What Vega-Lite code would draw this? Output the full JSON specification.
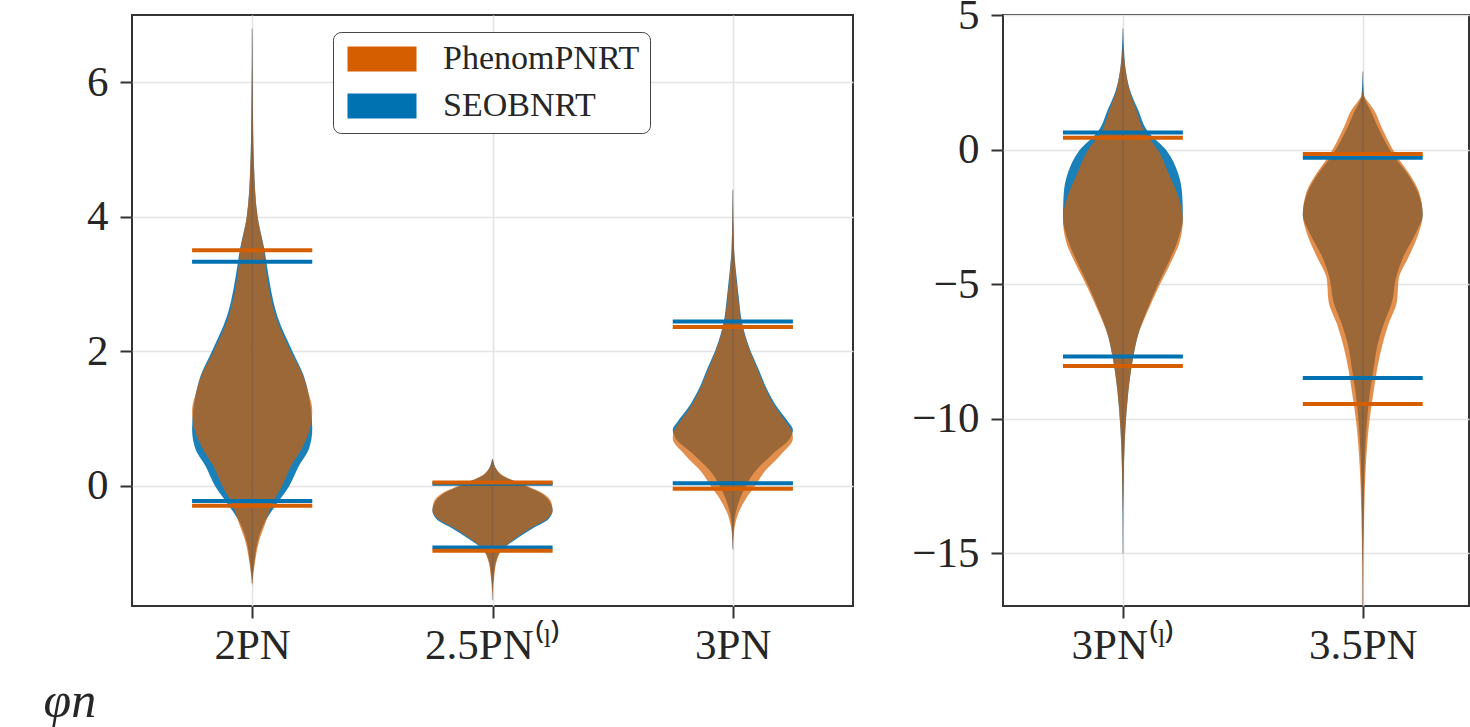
{
  "$schema": "https://vega.github.io/schema/vega-lite/v6.json",
  "background": "white",
  "padding": {"left": 42, "top": -7, "right": 0, "bottom": 0},
  "bounds": "flush",
  "spacing": 150,
  "config": {
    "view": {"stroke": "#333333", "strokeWidth": 2},
    "axis": {
      "labelFont": "Liberation Serif", "labelFontSize": 43, "labelColor": "#262626",
      "domain": false, "tickColor": "#333333", "tickWidth": 2, "tickSize": 12,
      "gridColor": "#e4e4e4", "gridWidth": 1.6, "titleFont": "Liberation Serif"
    },
    "axisY": {"labelPadding": 12},
    "axisX": {"labelPadding": 6},
    "legend": {
      "orient": "none", "legendX": 201, "legendY": 17,
      "symbolType": "M-2.76,-1H2.76V1H-2.76Z", "symbolSize": 625,
      "symbolOffset": 22, "labelOffset": 44,
      "symbolOpacity": 1, "symbolStrokeWidth": 0,
      "labelFont": "Liberation Serif", "labelFontSize": 34, "labelColor": "#262626", "labelLimit": 500,
      "rowPadding": 13, "padding": 10,
      "fillColor": "white", "strokeColor": "#444444", "cornerRadius": 8
    }
  },
  "datasets": {
    "violL": [
      {"c":0,"m":"SEOBNRT","y":6.8,"lo":0,"hi":0},
      {"c":0,"m":"SEOBNRT","y":5.7,"lo":-0.0025,"hi":0.0025},
      {"c":0,"m":"SEOBNRT","y":4.77,"lo":-0.0075,"hi":0.0075},
      {"c":0,"m":"SEOBNRT","y":4.0,"lo":-0.0225,"hi":0.0225},
      {"c":0,"m":"SEOBNRT","y":3.53,"lo":-0.05,"hi":0.05},
      {"c":0,"m":"SEOBNRT","y":3.08,"lo":-0.07,"hi":0.07},
      {"c":0,"m":"SEOBNRT","y":2.75,"lo":-0.0875,"hi":0.0875},
      {"c":0,"m":"SEOBNRT","y":2.52,"lo":-0.105,"hi":0.105},
      {"c":0,"m":"SEOBNRT","y":2.0,"lo":-0.1675,"hi":0.1675},
      {"c":0,"m":"SEOBNRT","y":1.63,"lo":-0.215,"hi":0.215},
      {"c":0,"m":"SEOBNRT","y":1.4,"lo":-0.2325,"hi":0.2325},
      {"c":0,"m":"SEOBNRT","y":1.12,"lo":-0.245,"hi":0.245},
      {"c":0,"m":"SEOBNRT","y":0.84,"lo":-0.25,"hi":0.25},
      {"c":0,"m":"SEOBNRT","y":0.56,"lo":-0.2375,"hi":0.2375},
      {"c":0,"m":"SEOBNRT","y":0.28,"lo":-0.1925,"hi":0.1925},
      {"c":0,"m":"SEOBNRT","y":0.0,"lo":-0.155,"hi":0.155},
      {"c":0,"m":"SEOBNRT","y":-0.22,"lo":-0.1125,"hi":0.1125},
      {"c":0,"m":"SEOBNRT","y":-0.56,"lo":-0.05,"hi":0.05},
      {"c":0,"m":"SEOBNRT","y":-0.84,"lo":-0.0225,"hi":0.0225},
      {"c":0,"m":"SEOBNRT","y":-1.12,"lo":-0.01,"hi":0.01},
      {"c":0,"m":"SEOBNRT","y":-1.4,"lo":0,"hi":0},

      {"c":0,"m":"PhenomPNRT","y":6.8,"lo":0,"hi":0},
      {"c":0,"m":"PhenomPNRT","y":5.7,"lo":-0.0025,"hi":0.0025},
      {"c":0,"m":"PhenomPNRT","y":4.77,"lo":-0.0075,"hi":0.0075},
      {"c":0,"m":"PhenomPNRT","y":4.0,"lo":-0.0225,"hi":0.0225},
      {"c":0,"m":"PhenomPNRT","y":3.53,"lo":-0.0475,"hi":0.0475},
      {"c":0,"m":"PhenomPNRT","y":3.08,"lo":-0.0625,"hi":0.0625},
      {"c":0,"m":"PhenomPNRT","y":2.75,"lo":-0.08,"hi":0.08},
      {"c":0,"m":"PhenomPNRT","y":2.52,"lo":-0.0975,"hi":0.0975},
      {"c":0,"m":"PhenomPNRT","y":2.0,"lo":-0.16,"hi":0.16},
      {"c":0,"m":"PhenomPNRT","y":1.63,"lo":-0.2125,"hi":0.2125},
      {"c":0,"m":"PhenomPNRT","y":1.4,"lo":-0.2325,"hi":0.2325},
      {"c":0,"m":"PhenomPNRT","y":1.12,"lo":-0.25,"hi":0.25},
      {"c":0,"m":"PhenomPNRT","y":0.84,"lo":-0.24,"hi":0.24},
      {"c":0,"m":"PhenomPNRT","y":0.56,"lo":-0.2075,"hi":0.2075},
      {"c":0,"m":"PhenomPNRT","y":0.28,"lo":-0.16,"hi":0.16},
      {"c":0,"m":"PhenomPNRT","y":0.0,"lo":-0.125,"hi":0.125},
      {"c":0,"m":"PhenomPNRT","y":-0.22,"lo":-0.09,"hi":0.09},
      {"c":0,"m":"PhenomPNRT","y":-0.56,"lo":-0.055,"hi":0.055},
      {"c":0,"m":"PhenomPNRT","y":-0.84,"lo":-0.0275,"hi":0.0275},
      {"c":0,"m":"PhenomPNRT","y":-1.12,"lo":-0.0125,"hi":0.0125},
      {"c":0,"m":"PhenomPNRT","y":-1.4,"lo":-0.0025,"hi":0.0025},
      {"c":0,"m":"PhenomPNRT","y":-1.5,"lo":0,"hi":0},

      {"c":1,"m":"SEOBNRT","y":0.4,"lo":1,"hi":1},
      {"c":1,"m":"SEOBNRT","y":0.37,"lo":0.9975,"hi":1.0025},
      {"c":1,"m":"SEOBNRT","y":0.25,"lo":0.985,"hi":1.015},
      {"c":1,"m":"SEOBNRT","y":0.15,"lo":0.96,"hi":1.04},
      {"c":1,"m":"SEOBNRT","y":0.04,"lo":0.8925,"hi":1.1075},
      {"c":1,"m":"SEOBNRT","y":-0.1,"lo":0.805,"hi":1.195},
      {"c":1,"m":"SEOBNRT","y":-0.25,"lo":0.76,"hi":1.24},
      {"c":1,"m":"SEOBNRT","y":-0.37,"lo":0.75,"hi":1.25},
      {"c":1,"m":"SEOBNRT","y":-0.5,"lo":0.7675,"hi":1.2325},
      {"c":1,"m":"SEOBNRT","y":-0.64,"lo":0.835,"hi":1.165},
      {"c":1,"m":"SEOBNRT","y":-0.79,"lo":0.9,"hi":1.1},
      {"c":1,"m":"SEOBNRT","y":-0.94,"lo":0.9575,"hi":1.0425},
      {"c":1,"m":"SEOBNRT","y":-1.09,"lo":0.9825,"hi":1.0175},
      {"c":1,"m":"SEOBNRT","y":-1.34,"lo":0.995,"hi":1.005},
      {"c":1,"m":"SEOBNRT","y":-1.6,"lo":1,"hi":1},

      {"c":1,"m":"PhenomPNRT","y":0.4,"lo":1,"hi":1},
      {"c":1,"m":"PhenomPNRT","y":0.37,"lo":0.9975,"hi":1.0025},
      {"c":1,"m":"PhenomPNRT","y":0.25,"lo":0.985,"hi":1.015},
      {"c":1,"m":"PhenomPNRT","y":0.15,"lo":0.9575,"hi":1.0425},
      {"c":1,"m":"PhenomPNRT","y":0.04,"lo":0.8875,"hi":1.1125},
      {"c":1,"m":"PhenomPNRT","y":-0.1,"lo":0.7975,"hi":1.2025},
      {"c":1,"m":"PhenomPNRT","y":-0.25,"lo":0.755,"hi":1.245},
      {"c":1,"m":"PhenomPNRT","y":-0.37,"lo":0.75,"hi":1.25},
      {"c":1,"m":"PhenomPNRT","y":-0.5,"lo":0.775,"hi":1.225},
      {"c":1,"m":"PhenomPNRT","y":-0.64,"lo":0.845,"hi":1.155},
      {"c":1,"m":"PhenomPNRT","y":-0.79,"lo":0.9075,"hi":1.0925},
      {"c":1,"m":"PhenomPNRT","y":-0.94,"lo":0.9575,"hi":1.0425},
      {"c":1,"m":"PhenomPNRT","y":-1.09,"lo":0.98,"hi":1.02},
      {"c":1,"m":"PhenomPNRT","y":-1.34,"lo":0.9925,"hi":1.0075},
      {"c":1,"m":"PhenomPNRT","y":-1.6,"lo":0.99875,"hi":1.00125},
      {"c":1,"m":"PhenomPNRT","y":-1.72,"lo":1,"hi":1},

      {"c":2,"m":"SEOBNRT","y":4.4,"lo":2,"hi":2},
      {"c":2,"m":"SEOBNRT","y":3.53,"lo":1.995,"hi":2.005},
      {"c":2,"m":"SEOBNRT","y":3.04,"lo":1.9825,"hi":2.0175},
      {"c":2,"m":"SEOBNRT","y":2.79,"lo":1.975,"hi":2.025},
      {"c":2,"m":"SEOBNRT","y":2.44,"lo":1.9625,"hi":2.0375},
      {"c":2,"m":"SEOBNRT","y":2.04,"lo":1.93,"hi":2.07},
      {"c":2,"m":"SEOBNRT","y":1.75,"lo":1.895,"hi":2.105},
      {"c":2,"m":"SEOBNRT","y":1.45,"lo":1.86,"hi":2.14},
      {"c":2,"m":"SEOBNRT","y":1.15,"lo":1.8125,"hi":2.1875},
      {"c":2,"m":"SEOBNRT","y":0.95,"lo":1.77,"hi":2.23},
      {"c":2,"m":"SEOBNRT","y":0.83,"lo":1.75,"hi":2.25},
      {"c":2,"m":"SEOBNRT","y":0.7,"lo":1.7625,"hi":2.2375},
      {"c":2,"m":"SEOBNRT","y":0.46,"lo":1.8375,"hi":2.1625},
      {"c":2,"m":"SEOBNRT","y":0.21,"lo":1.9075,"hi":2.0925},
      {"c":2,"m":"SEOBNRT","y":0.0,"lo":1.945,"hi":2.055},
      {"c":2,"m":"SEOBNRT","y":-0.19,"lo":1.97,"hi":2.03},
      {"c":2,"m":"SEOBNRT","y":-0.44,"lo":1.99,"hi":2.01},
      {"c":2,"m":"SEOBNRT","y":-0.68,"lo":1.9975,"hi":2.0025},
      {"c":2,"m":"SEOBNRT","y":-0.95,"lo":2,"hi":2},

      {"c":2,"m":"PhenomPNRT","y":4.4,"lo":2,"hi":2},
      {"c":2,"m":"PhenomPNRT","y":3.53,"lo":1.995,"hi":2.005},
      {"c":2,"m":"PhenomPNRT","y":3.04,"lo":1.985,"hi":2.015},
      {"c":2,"m":"PhenomPNRT","y":2.79,"lo":1.9775,"hi":2.0225},
      {"c":2,"m":"PhenomPNRT","y":2.44,"lo":1.965,"hi":2.035},
      {"c":2,"m":"PhenomPNRT","y":2.04,"lo":1.9325,"hi":2.0675},
      {"c":2,"m":"PhenomPNRT","y":1.75,"lo":1.9,"hi":2.1},
      {"c":2,"m":"PhenomPNRT","y":1.45,"lo":1.865,"hi":2.135},
      {"c":2,"m":"PhenomPNRT","y":1.15,"lo":1.82,"hi":2.18},
      {"c":2,"m":"PhenomPNRT","y":0.95,"lo":1.78,"hi":2.22},
      {"c":2,"m":"PhenomPNRT","y":0.83,"lo":1.7575,"hi":2.2425},
      {"c":2,"m":"PhenomPNRT","y":0.7,"lo":1.75,"hi":2.25},
      {"c":2,"m":"PhenomPNRT","y":0.46,"lo":1.8,"hi":2.2},
      {"c":2,"m":"PhenomPNRT","y":0.21,"lo":1.8675,"hi":2.1325},
      {"c":2,"m":"PhenomPNRT","y":0.0,"lo":1.9075,"hi":2.0925},
      {"c":2,"m":"PhenomPNRT","y":-0.19,"lo":1.945,"hi":2.055},
      {"c":2,"m":"PhenomPNRT","y":-0.44,"lo":1.98,"hi":2.02},
      {"c":2,"m":"PhenomPNRT","y":-0.68,"lo":1.995,"hi":2.005},
      {"c":2,"m":"PhenomPNRT","y":-0.95,"lo":2,"hi":2}
    ],
    "violR": [
      {"c":0,"m":"SEOBNRT","y":4.5,"lo":0,"hi":0},
      {"c":0,"m":"SEOBNRT","y":3.6,"lo":-0.005,"hi":0.005},
      {"c":0,"m":"SEOBNRT","y":2.9,"lo":-0.0125,"hi":0.0125},
      {"c":0,"m":"SEOBNRT","y":2.2,"lo":-0.03,"hi":0.03},
      {"c":0,"m":"SEOBNRT","y":1.5,"lo":-0.0625,"hi":0.0625},
      {"c":0,"m":"SEOBNRT","y":0.66,"lo":-0.105,"hi":0.105},
      {"c":0,"m":"SEOBNRT","y":-0.04,"lo":-0.1825,"hi":0.1825},
      {"c":0,"m":"SEOBNRT","y":-0.88,"lo":-0.23,"hi":0.23},
      {"c":0,"m":"SEOBNRT","y":-1.72,"lo":-0.2475,"hi":0.2475},
      {"c":0,"m":"SEOBNRT","y":-2.56,"lo":-0.25,"hi":0.25},
      {"c":0,"m":"SEOBNRT","y":-3.4,"lo":-0.2275,"hi":0.2275},
      {"c":0,"m":"SEOBNRT","y":-4.24,"lo":-0.1875,"hi":0.1875},
      {"c":0,"m":"SEOBNRT","y":-5.08,"lo":-0.1425,"hi":0.1425},
      {"c":0,"m":"SEOBNRT","y":-5.92,"lo":-0.1025,"hi":0.1025},
      {"c":0,"m":"SEOBNRT","y":-6.9,"lo":-0.0625,"hi":0.0625},
      {"c":0,"m":"SEOBNRT","y":-7.73,"lo":-0.0425,"hi":0.0425},
      {"c":0,"m":"SEOBNRT","y":-8.99,"lo":-0.0225,"hi":0.0225},
      {"c":0,"m":"SEOBNRT","y":-10.4,"lo":-0.01,"hi":0.01},
      {"c":0,"m":"SEOBNRT","y":-12.5,"lo":-0.0025,"hi":0.0025},
      {"c":0,"m":"SEOBNRT","y":-15.0,"lo":0,"hi":0},

      {"c":0,"m":"PhenomPNRT","y":3.8,"lo":0,"hi":0},
      {"c":0,"m":"PhenomPNRT","y":3.6,"lo":-0.0025,"hi":0.0025},
      {"c":0,"m":"PhenomPNRT","y":2.9,"lo":-0.0125,"hi":0.0125},
      {"c":0,"m":"PhenomPNRT","y":2.2,"lo":-0.0275,"hi":0.0275},
      {"c":0,"m":"PhenomPNRT","y":1.5,"lo":-0.055,"hi":0.055},
      {"c":0,"m":"PhenomPNRT","y":0.66,"lo":-0.09,"hi":0.09},
      {"c":0,"m":"PhenomPNRT","y":-0.04,"lo":-0.1475,"hi":0.1475},
      {"c":0,"m":"PhenomPNRT","y":-0.88,"lo":-0.19,"hi":0.19},
      {"c":0,"m":"PhenomPNRT","y":-1.72,"lo":-0.23,"hi":0.23},
      {"c":0,"m":"PhenomPNRT","y":-2.56,"lo":-0.25,"hi":0.25},
      {"c":0,"m":"PhenomPNRT","y":-3.4,"lo":-0.2375,"hi":0.2375},
      {"c":0,"m":"PhenomPNRT","y":-4.24,"lo":-0.1975,"hi":0.1975},
      {"c":0,"m":"PhenomPNRT","y":-5.08,"lo":-0.15,"hi":0.15},
      {"c":0,"m":"PhenomPNRT","y":-5.92,"lo":-0.1075,"hi":0.1075},
      {"c":0,"m":"PhenomPNRT","y":-6.9,"lo":-0.0625,"hi":0.0625},
      {"c":0,"m":"PhenomPNRT","y":-7.73,"lo":-0.0425,"hi":0.0425},
      {"c":0,"m":"PhenomPNRT","y":-8.99,"lo":-0.0225,"hi":0.0225},
      {"c":0,"m":"PhenomPNRT","y":-10.4,"lo":-0.01,"hi":0.01},
      {"c":0,"m":"PhenomPNRT","y":-12.5,"lo":-0.0025,"hi":0.0025},
      {"c":0,"m":"PhenomPNRT","y":-13.5,"lo":0,"hi":0},

      {"c":1,"m":"SEOBNRT","y":2.9,"lo":1,"hi":1},
      {"c":1,"m":"SEOBNRT","y":2.0,"lo":0.995,"hi":1.005},
      {"c":1,"m":"SEOBNRT","y":1.8,"lo":0.9875,"hi":1.0125},
      {"c":1,"m":"SEOBNRT","y":1.5,"lo":0.97,"hi":1.03},
      {"c":1,"m":"SEOBNRT","y":0.8,"lo":0.935,"hi":1.065},
      {"c":1,"m":"SEOBNRT","y":-0.18,"lo":0.875,"hi":1.125},
      {"c":1,"m":"SEOBNRT","y":-0.88,"lo":0.815,"hi":1.185},
      {"c":1,"m":"SEOBNRT","y":-1.58,"lo":0.77,"hi":1.23},
      {"c":1,"m":"SEOBNRT","y":-2.42,"lo":0.75,"hi":1.25},
      {"c":1,"m":"SEOBNRT","y":-3.12,"lo":0.78,"hi":1.22},
      {"c":1,"m":"SEOBNRT","y":-3.96,"lo":0.83,"hi":1.17},
      {"c":1,"m":"SEOBNRT","y":-4.8,"lo":0.8625,"hi":1.1375},
      {"c":1,"m":"SEOBNRT","y":-5.64,"lo":0.8775,"hi":1.1225},
      {"c":1,"m":"SEOBNRT","y":-6.48,"lo":0.9125,"hi":1.0875},
      {"c":1,"m":"SEOBNRT","y":-7.31,"lo":0.94,"hi":1.06},
      {"c":1,"m":"SEOBNRT","y":-8.15,"lo":0.955,"hi":1.045},
      {"c":1,"m":"SEOBNRT","y":-9.0,"lo":0.97,"hi":1.03},
      {"c":1,"m":"SEOBNRT","y":-10.1,"lo":0.9825,"hi":1.0175},
      {"c":1,"m":"SEOBNRT","y":-11.8,"lo":0.9925,"hi":1.0075},
      {"c":1,"m":"SEOBNRT","y":-13.9,"lo":0.9975,"hi":1.0025},
      {"c":1,"m":"SEOBNRT","y":-15.5,"lo":1,"hi":1},

      {"c":1,"m":"PhenomPNRT","y":2.2,"lo":1,"hi":1},
      {"c":1,"m":"PhenomPNRT","y":2.0,"lo":0.995,"hi":1.005},
      {"c":1,"m":"PhenomPNRT","y":1.8,"lo":0.98,"hi":1.02},
      {"c":1,"m":"PhenomPNRT","y":1.5,"lo":0.955,"hi":1.045},
      {"c":1,"m":"PhenomPNRT","y":0.8,"lo":0.92,"hi":1.08},
      {"c":1,"m":"PhenomPNRT","y":-0.18,"lo":0.8625,"hi":1.1375},
      {"c":1,"m":"PhenomPNRT","y":-0.88,"lo":0.8075,"hi":1.1925},
      {"c":1,"m":"PhenomPNRT","y":-1.58,"lo":0.765,"hi":1.235},
      {"c":1,"m":"PhenomPNRT","y":-2.42,"lo":0.75,"hi":1.25},
      {"c":1,"m":"PhenomPNRT","y":-3.12,"lo":0.7675,"hi":1.2325},
      {"c":1,"m":"PhenomPNRT","y":-3.96,"lo":0.8075,"hi":1.1925},
      {"c":1,"m":"PhenomPNRT","y":-4.8,"lo":0.85,"hi":1.15},
      {"c":1,"m":"PhenomPNRT","y":-5.64,"lo":0.8575,"hi":1.1425},
      {"c":1,"m":"PhenomPNRT","y":-6.48,"lo":0.8925,"hi":1.1075},
      {"c":1,"m":"PhenomPNRT","y":-7.31,"lo":0.92,"hi":1.08},
      {"c":1,"m":"PhenomPNRT","y":-8.15,"lo":0.94,"hi":1.06},
      {"c":1,"m":"PhenomPNRT","y":-9.0,"lo":0.955,"hi":1.045},
      {"c":1,"m":"PhenomPNRT","y":-10.1,"lo":0.9725,"hi":1.0275},
      {"c":1,"m":"PhenomPNRT","y":-11.8,"lo":0.9875,"hi":1.0125},
      {"c":1,"m":"PhenomPNRT","y":-13.9,"lo":0.995,"hi":1.005},
      {"c":1,"m":"PhenomPNRT","y":-15.5,"lo":0.998,"hi":1.002},
      {"c":1,"m":"PhenomPNRT","y":-16.95,"lo":0.999,"hi":1.001}
    ],
    "bndL": [
      {"c":0,"m":"SEOBNRT","y":3.33,"lo":-0.25,"hi":0.25},
      {"c":0,"m":"SEOBNRT","y":-0.23,"lo":-0.25,"hi":0.25},
      {"c":1,"m":"SEOBNRT","y":0.03,"lo":0.75,"hi":1.25},
      {"c":1,"m":"SEOBNRT","y":-0.92,"lo":0.75,"hi":1.25},
      {"c":2,"m":"SEOBNRT","y":2.44,"lo":1.75,"hi":2.25},
      {"c":2,"m":"SEOBNRT","y":0.035,"lo":1.75,"hi":2.25},
      {"c":0,"m":"PhenomPNRT","y":3.5,"lo":-0.25,"hi":0.25},
      {"c":0,"m":"PhenomPNRT","y":-0.3,"lo":-0.25,"hi":0.25},
      {"c":1,"m":"PhenomPNRT","y":0.045,"lo":0.75,"hi":1.25},
      {"c":1,"m":"PhenomPNRT","y":-0.97,"lo":0.75,"hi":1.25},
      {"c":2,"m":"PhenomPNRT","y":2.36,"lo":1.75,"hi":2.25},
      {"c":2,"m":"PhenomPNRT","y":-0.045,"lo":1.75,"hi":2.25}
    ],
    "bndR": [
      {"c":0,"m":"SEOBNRT","y":0.64,"lo":-0.25,"hi":0.25},
      {"c":0,"m":"SEOBNRT","y":-7.68,"lo":-0.25,"hi":0.25},
      {"c":1,"m":"SEOBNRT","y":-0.3,"lo":0.75,"hi":1.25},
      {"c":1,"m":"SEOBNRT","y":-8.48,"lo":0.75,"hi":1.25},
      {"c":0,"m":"PhenomPNRT","y":0.44,"lo":-0.25,"hi":0.25},
      {"c":0,"m":"PhenomPNRT","y":-8.04,"lo":-0.25,"hi":0.25},
      {"c":1,"m":"PhenomPNRT","y":-0.16,"lo":0.75,"hi":1.25},
      {"c":1,"m":"PhenomPNRT","y":-9.45,"lo":0.75,"hi":1.25}
    ],
    "barL": [
      {"c":0,"ymin":-1.45,"ymax":6.8},
      {"c":1,"ymin":-1.7,"ymax":0.4},
      {"c":2,"ymin":-0.95,"ymax":4.4}
    ],
    "barR": [
      {"c":0,"ymin":-15.0,"ymax":4.5},
      {"c":1,"ymin":-16.95,"ymax":2.9}
    ]
  },
  "resolve": {"scale": {"x": "independent", "y": "independent", "fill": "independent", "stroke": "independent"}},
  "hconcat": [
    {
      "width": 721,
      "height": 591,
      "layer": [
        {
          "data": {"name": "violL"},
          "transform": [{"filter": "datum.m == 'SEOBNRT'"}],
          "mark": {"type": "area", "orient": "horizontal", "interpolate": "monotone", "opacity": 0.9, "clip": true},
          "encoding": {
            "y": {"field": "y", "type": "quantitative", "scale": {"domain": [-1.79, 7.0], "nice": false, "zero": false},
                  "axis": {"values": [0, 2, 4, 6], "format": "d", "grid": true, "title": null}},
            "x": {"field": "lo", "type": "quantitative", "scale": {"domain": [-0.5, 2.5], "nice": false, "zero": false},
                  "axis": {"values": [0, 1, 2], "grid": true,
                           "labelExpr": "datum.value == 0 ? '2PN' : datum.value == 1 ? '2.5PN⁽ˡ⁾' : '3PN'",
                           "title": "φn", "titleFont": "Liberation Serif", "titleFontStyle": "italic", "titleFontWeight": "normal",
                           "titleFontSize": 50, "titleColor": "#262626", "titleAlign": "left", "titleAnchor": "start",
                           "titleBaseline": "alphabetic", "titleX": -89, "titleY": 110}},
            "x2": {"field": "hi"},
            "fill": {"field": "m", "type": "nominal",
                     "scale": {"domain": ["PhenomPNRT", "SEOBNRT"], "range": ["#D55E00", "#0072B2"]},
                     "legend": {"title": null}},
            "detail": {"field": "c"}
          }
        },
        {
          "data": {"name": "violL"},
          "transform": [{"filter": "datum.m == 'PhenomPNRT'"}],
          "mark": {"type": "area", "orient": "horizontal", "interpolate": "monotone", "opacity": 0.7, "clip": true},
          "encoding": {
            "y": {"field": "y", "type": "quantitative", "scale": {"domain": [-1.79, 7.0], "nice": false, "zero": false}},
            "x": {"field": "lo", "type": "quantitative", "scale": {"domain": [-0.5, 2.5], "nice": false, "zero": false}},
            "x2": {"field": "hi"},
            "fill": {"field": "m", "type": "nominal",
                     "scale": {"domain": ["PhenomPNRT", "SEOBNRT"], "range": ["#D55E00", "#0072B2"]},
                     "legend": {"title": null}},
            "detail": {"field": "c"}
          }
        },
        {
          "data": {"name": "barL"},
          "mark": {"type": "rule", "color": "#555555", "opacity": 0.35, "strokeWidth": 1.6, "clip": true},
          "encoding": {
            "x": {"field": "c", "type": "quantitative", "scale": {"domain": [-0.5, 2.5], "nice": false, "zero": false}},
            "y": {"field": "ymin", "type": "quantitative", "scale": {"domain": [-1.79, 7.0], "nice": false, "zero": false}},
            "y2": {"field": "ymax"}
          }
        },
        {
          "data": {"name": "bndL"},
          "mark": {"type": "rule", "strokeWidth": 4},
          "encoding": {
            "x": {"field": "lo", "type": "quantitative", "scale": {"domain": [-0.5, 2.5], "nice": false, "zero": false}},
            "x2": {"field": "hi"},
            "y": {"field": "y", "type": "quantitative", "scale": {"domain": [-1.79, 7.0], "nice": false, "zero": false}},
            "stroke": {"field": "m", "type": "nominal",
                       "scale": {"domain": ["PhenomPNRT", "SEOBNRT"], "range": ["#D55E00", "#0072B2"]},
                       "legend": null},
            "order": {"field": "m", "sort": "descending"}
          }
        }
      ]
    },
    {
      "width": 466,
      "height": 591,
      "layer": [
        {
          "data": {"name": "violR"},
          "transform": [{"filter": "datum.m == 'SEOBNRT'"}],
          "mark": {"type": "area", "orient": "horizontal", "interpolate": "monotone", "opacity": 0.9, "clip": true},
          "encoding": {
            "y": {"field": "y", "type": "quantitative", "scale": {"domain": [-16.95, 5.0], "nice": false, "zero": false},
                  "axis": {"values": [-15, -10, -5, 0, 5], "grid": true, "title": null}},
            "x": {"field": "lo", "type": "quantitative", "scale": {"domain": [-0.5, 1.443], "nice": false, "zero": false},
                  "axis": {"values": [0, 1], "grid": true, "title": null,
                           "labelExpr": "datum.value == 0 ? '3PN⁽ˡ⁾' : '3.5PN'"}},
            "x2": {"field": "hi"},
            "fill": {"field": "m", "type": "nominal",
                     "scale": {"domain": ["PhenomPNRT", "SEOBNRT"], "range": ["#D55E00", "#0072B2"]},
                     "legend": null},
            "detail": {"field": "c"}
          }
        },
        {
          "data": {"name": "violR"},
          "transform": [{"filter": "datum.m == 'PhenomPNRT'"}],
          "mark": {"type": "area", "orient": "horizontal", "interpolate": "monotone", "opacity": 0.7, "clip": true},
          "encoding": {
            "y": {"field": "y", "type": "quantitative", "scale": {"domain": [-16.95, 5.0], "nice": false, "zero": false}},
            "x": {"field": "lo", "type": "quantitative", "scale": {"domain": [-0.5, 1.443], "nice": false, "zero": false}},
            "x2": {"field": "hi"},
            "fill": {"field": "m", "type": "nominal",
                     "scale": {"domain": ["PhenomPNRT", "SEOBNRT"], "range": ["#D55E00", "#0072B2"]},
                     "legend": null},
            "detail": {"field": "c"}
          }
        },
        {
          "data": {"name": "barR"},
          "mark": {"type": "rule", "color": "#555555", "opacity": 0.35, "strokeWidth": 1.6, "clip": true},
          "encoding": {
            "x": {"field": "c", "type": "quantitative", "scale": {"domain": [-0.5, 1.443], "nice": false, "zero": false}},
            "y": {"field": "ymin", "type": "quantitative", "scale": {"domain": [-16.95, 5.0], "nice": false, "zero": false}},
            "y2": {"field": "ymax"}
          }
        },
        {
          "data": {"name": "bndR"},
          "mark": {"type": "rule", "strokeWidth": 4},
          "encoding": {
            "x": {"field": "lo", "type": "quantitative", "scale": {"domain": [-0.5, 1.443], "nice": false, "zero": false}},
            "x2": {"field": "hi"},
            "y": {"field": "y", "type": "quantitative", "scale": {"domain": [-16.95, 5.0], "nice": false, "zero": false}},
            "stroke": {"field": "m", "type": "nominal",
                       "scale": {"domain": ["PhenomPNRT", "SEOBNRT"], "range": ["#D55E00", "#0072B2"]},
                       "legend": null},
            "order": {"field": "m", "sort": "descending"}
          }
        }
      ]
    }
  ]
}
